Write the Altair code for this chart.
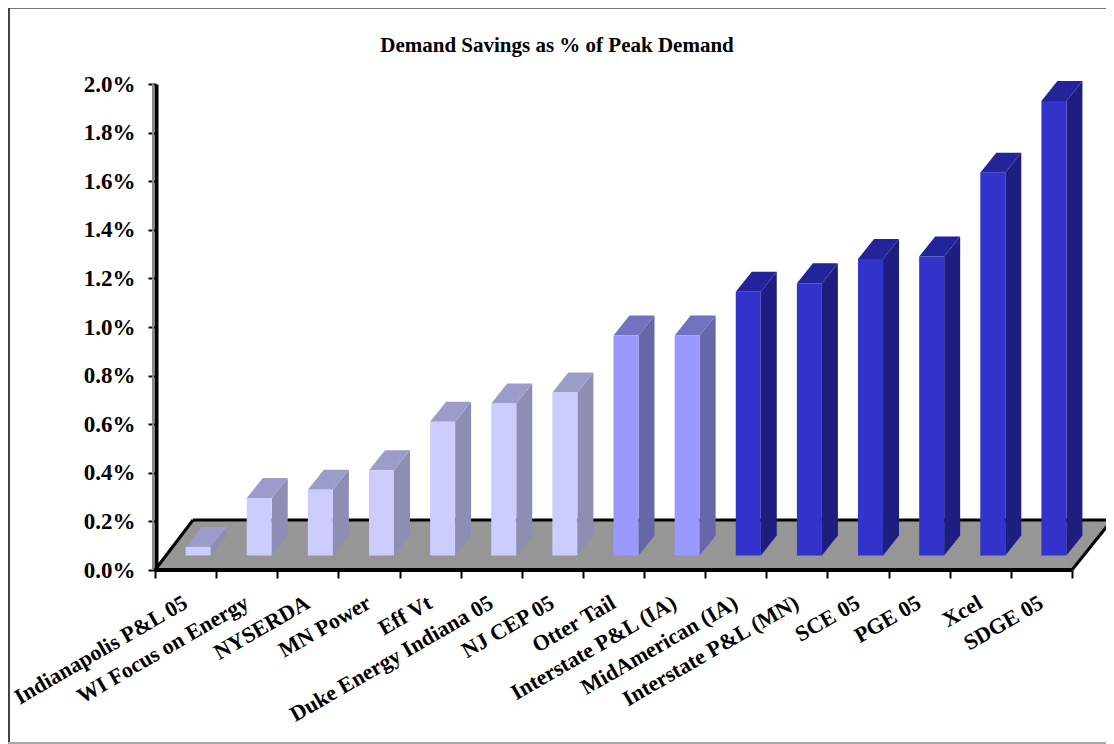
import altair as alt
import pandas as pd

chart_title = "Demand Savings as % of Peak Demand"
categories = ["Indianapolis P&L 05", "WI Focus on Energy", "NYSERDA", "MN Power", "Eff Vt",
              "Duke Energy Indiana 05", "NJ CEP 05", "Otter Tail", "Interstate P&L (IA)",
              "MidAmerican (IA)", "Interstate P&L (MN)", "SCE 05", "PGE 05", "Xcel", "SDGE 05"]
values = [0.095, 0.296, 0.33, 0.41, 0.61, 0.685, 0.73, 0.965, 0.965, 1.145, 1.18, 1.28, 1.29, 1.635, 1.93]
tiers = ["light"] * 7 + ["mid"] * 2 + ["dark"] * 6
y_ticks = [0.0, 0.2, 0.4, 0.6, 0.8, 1.0, 1.2, 1.4, 1.6, 1.8, 2.0]

FONT = "Liberation Serif"
PX_X = 61.13
PX_Y = 243.0
W, H = 957, 486
VIEW_W = 949
XMAX = W / PX_X
BASE = 0.06
DX = 16 / PX_X
DY = 20 / PX_Y
BW = 25 / PX_X
SHIFT = 0.705
FLOOR_DX = 38 / PX_X
FLOOR_DY = 50 / PX_Y

x_scale = alt.Scale(domain=[0, XMAX], range=[0, W], nice=False, zero=False)
y_scale = alt.Scale(domain=[0, 2], range=[H, 0], nice=False, zero=False)
tier_domain = ["light", "mid", "dark"]
front_c = ["#CCCCFF", "#9999FF", "#3333CC"]
side_c = ["#8E8EB4", "#6666A8", "#1E1E80"]
top_c = ["#9C9CCB", "#7272BE", "#24249A"]

front, side, top = [], [], []
for i, (c, v, t) in enumerate(zip(categories, values, tiers)):
    l = i + SHIFT - BW / 2
    r = i + SHIFT + BW / 2
    front.append(dict(cat=c, l=l, r=r, y0=BASE, y1=v, tier=t))
    side.append(dict(cat=c, x=r, y0=BASE, y1=v, tier=t))
    side.append(dict(cat=c, x=r + DX, y0=BASE + DY, y1=v + DY, tier=t))
    top.append(dict(cat=c, x=l, y0=v, y1=v, tier=t))
    top.append(dict(cat=c, x=l + DX, y0=v, y1=v + DY, tier=t))
    top.append(dict(cat=c, x=r, y0=v, y1=v + DY, tier=t))
    top.append(dict(cat=c, x=r + DX, y0=v + DY, y1=v + DY, tier=t))
front, side, top = map(pd.DataFrame, (front, side, top))

x = lambda f: alt.X(f, type="quantitative", scale=x_scale, axis=None)
y = lambda f: alt.Y(f, type="quantitative", scale=y_scale, axis=None)
x2 = lambda f: alt.X2(f)
y2 = lambda f: alt.Y2(f)

floor_df = pd.DataFrame([
    dict(x=0, y0=0, y1=0),
    dict(x=FLOOR_DX, y0=0, y1=FLOOR_DY),
    dict(x=15, y0=0, y1=FLOOR_DY),
    dict(x=XMAX, y0=FLOOR_DY, y1=FLOOR_DY),
])
floor = alt.Chart(floor_df).mark_area(color="#969696", opacity=1).encode(x=x("x"), y=y("y1"), y2=y2("y0"))

edges_df = pd.DataFrame([
    dict(a=FLOOR_DX, b=XMAX, c=FLOOR_DY, d=FLOOR_DY, w=3, k="#000000"),
    dict(a=0, b=FLOOR_DX, c=0, d=FLOOR_DY, w=3, k="#000000"),
    dict(a=15, b=XMAX, c=0, d=FLOOR_DY, w=3, k="#000000"),
])
edges = alt.Chart(edges_df).mark_rule(opacity=1).encode(
    x=x("a"), x2=x2("b"), y=y("c"), y2=y2("d"),
    strokeWidth=alt.StrokeWidth("w:Q", scale=None),
    color=alt.Color("k:N", scale=None))

side_layer = alt.Chart(side).mark_area(opacity=1).encode(
    x=x("x"), y=y("y1"), y2=y2("y0"), detail="cat:N",
    color=alt.Color("tier:N", scale=alt.Scale(domain=tier_domain, range=side_c), legend=None))
top_layer = alt.Chart(top).mark_area(opacity=1).encode(
    x=x("x"), y=y("y1"), y2=y2("y0"), detail="cat:N",
    color=alt.Color("tier:N", scale=alt.Scale(domain=tier_domain, range=top_c), legend=None))
front_layer = alt.Chart(front).mark_rect(opacity=1).encode(
    x=x("l"), x2=x2("r"), y=y("y1"), y2=y2("y0"),
    color=alt.Color("tier:N", scale=alt.Scale(domain=tier_domain, range=front_c), legend=None))

axis_df = pd.DataFrame({"v": [0.0, 0.0], "u": [0, 15]})
y_axis_layer = alt.Chart(pd.DataFrame({"v": y_ticks})).mark_tick(opacity=0).encode(
    y=alt.Y("v:Q", scale=y_scale, axis=alt.Axis(
        orient="left", offset=-1,
        values=y_ticks, labelExpr="format(datum.value,'.1f')+'%'", title=None, grid=False,
        labelFont=FONT, labelFontWeight="bold", labelFontSize=23, labelColor="#000000",
        labelPadding=13, domainColor="#000000", domainWidth=4, tickColor="#000000",
        tickWidth=2, tickSize=8)))
shadow = alt.Chart(pd.DataFrame({"v": [0.0], "top": [2.0]})).mark_rule(color="#8a8a8a", strokeWidth=2).encode(
    x=alt.value(-2), y=y("v"), y2=y2("top"))

x_ticks = list(range(16))
x_axis_layer = alt.Chart(pd.DataFrame({"u": x_ticks})).mark_tick(opacity=0).encode(
    x=alt.X("u:Q", scale=x_scale, axis=alt.Axis(
        orient="bottom",
        values=x_ticks, labels=False, title=None, grid=False, domain=False,
        tickColor="#000000", tickWidth=2, tickSize=8)))
front_edge = alt.Chart(axis_df).mark_line(color="#000000", strokeWidth=4, opacity=1).encode(
    x=x("u"), y=y("v"))

labels = alt.Chart(pd.DataFrame({"cat": categories, "pos": [i + 0.5 for i in range(15)]})).mark_text(
    font=FONT, fontWeight="bold", fontSize=22, color="#000000", angle=330, align="right", baseline="middle"
).encode(x=x("pos"), y=alt.value(H + 31), text="cat:N")

title_layer = alt.Chart(pd.DataFrame({"t": [chart_title]})).mark_text(
    font=FONT, fontWeight="bold", fontSize=21, color="#000000", align="center", baseline="middle"
).encode(x=alt.value(402), y=alt.value(-38), text="t:N")


def frame_rule(colour, width, x_a, x_b, y_a, y_b):
    return alt.Chart(pd.DataFrame({"a": [0]})).mark_rule(color=colour, strokeWidth=width).encode(
        x=alt.value(x_a), x2=alt.value(x_b), y=alt.value(y_a), y2=alt.value(y_b))


frame_top = frame_rule("#777777", 2, -147, W, -76, -76)
frame_left = frame_rule("#444444", 2, -146, -146, -76, H + 173)
frame_bottom = frame_rule("#aaaaaa", 2, -147, W, H + 173, H + 173)

chart = alt.layer(
    frame_top, frame_left, frame_bottom, floor, edges, shadow, y_axis_layer, x_axis_layer, front_edge,
    side_layer, top_layer, front_layer, labels, title_layer
).resolve_scale(color="independent").resolve_axis(x="independent", y="independent").properties(
    width=VIEW_W, height=H,
    padding={"left": 147, "top": 76, "right": 2, "bottom": 174},
    autosize=alt.AutoSizeParams(type="none"),
).configure_view(stroke=None)

chart.save("out.html", embed_options={"renderer": "svg", "actions": False})
